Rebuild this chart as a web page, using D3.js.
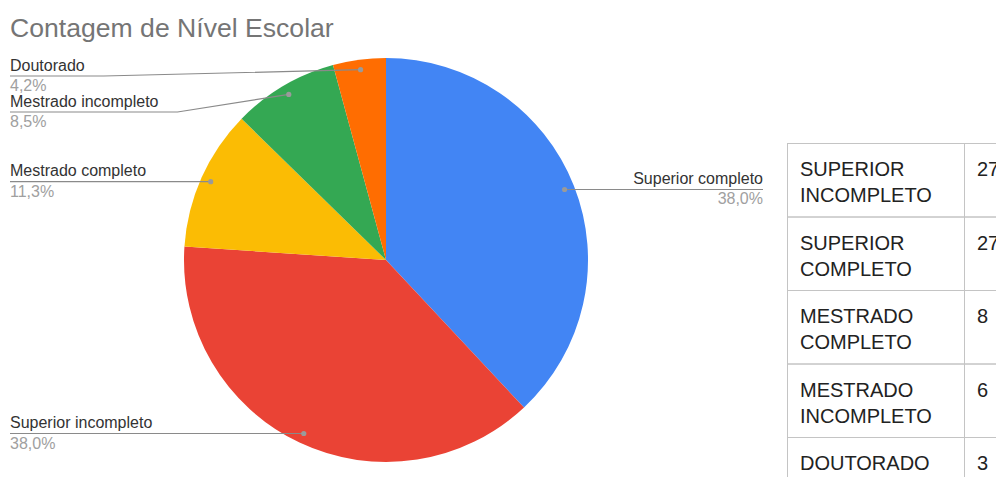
<!DOCTYPE html>
<html>
<head>
<meta charset="utf-8">
<script src="https://cdn.jsdelivr.net/npm/d3@7/dist/d3.min.js"></script>
<style>
  html, body { margin: 0; padding: 0; background: #fff; }
  svg { display: block; }
</style>
</head>
<body>
<svg id="chart" width="996" height="477"></svg>
<script>
// Pie categories and counts (clockwise from 12 o'clock)
const categories = ["Superior completo", "Superior incompleto", "Mestrado completo", "Mestrado incompleto", "Doutorado"];
const counts = [27, 27, 8, 6, 3];
const colors = ["#4285f4", "#ea4335", "#fbbc04", "#34a853", "#ff6d01"];

// Side table rows
const tableLabels = ["SUPERIOR INCOMPLETO", "SUPERIOR COMPLETO", "MESTRADO COMPLETO", "MESTRADO INCOMPLETO", "DOUTORADO"];
const tableCounts = [27, 27, 8, 6, 3];

const title = "Contagem de Nível Escolar";

const FONT = "'Liberation Sans', Arial, sans-serif";
const svg = d3.select("#chart");

// Title
svg.append("text")
  .attr("x", 10).attr("y", 37)
  .attr("font-family", FONT).attr("font-size", 26.6)
  .attr("fill", "#757575")
  .text(title);

// Pie
const cx = 386, cy = 260, R = 202;
const total = d3.sum(counts);
const data = categories.map((c, i) => ({ name: c, value: counts[i], color: colors[i] }));
const pie = d3.pie().sort(null).value(d => d.value);
const arcs = pie(data);
const arc = d3.arc().innerRadius(0).outerRadius(R);
const dotArc = d3.arc().innerRadius(192).outerRadius(192);

const g = svg.append("g").attr("transform", `translate(${cx},${cy})`);
g.selectAll("path.slice")
  .data(arcs)
  .join("path")
  .attr("class", "slice")
  .attr("d", arc)
  .attr("fill", d => d.data.color);

// Percentage format with comma decimal separator
const fmtPct = v => (v * 100).toFixed(1).replace(".", ",") + "%";

// Label layout: right side labels end at a fixed x, left side labels start at x=10
const labels = arcs.map(a => {
  const [dx, dy] = dotArc.centroid(a);
  return { a, dotX: cx + dx, dotY: cy + dy, right: dx > 0 };
});

// Stack left labels top-down, avoiding overlap
const LEFT_X = 10, RIGHT_X = 763, SPACING = 36, MIN_Y = 76;
const left = labels.filter(l => !l.right).sort((p, q) => p.dotY - q.dotY);
let prev = -Infinity;
left.forEach(l => {
  l.lineY = Math.max(l.dotY, prev + SPACING, MIN_Y);
  prev = l.lineY;
});
labels.filter(l => l.right).forEach(l => { l.lineY = l.dotY; });

const lg = svg.append("g");
labels.forEach(l => {
  const name = lg.append("text")
    .attr("font-family", FONT).attr("font-size", 16)
    .attr("fill", "#333")
    .attr("y", l.lineY - 5.5)
    .text(l.a.data.name);
  lg.append("text")
    .attr("font-family", FONT).attr("font-size", 16)
    .attr("fill", "#a0a0a0")
    .attr("y", l.lineY + 15)
    .attr("x", l.right ? RIGHT_X : LEFT_X)
    .attr("text-anchor", l.right ? "end" : "start")
    .text(fmtPct(l.a.data.value / total));
  let pts;
  if (l.right) {
    name.attr("x", RIGHT_X).attr("text-anchor", "end");
    pts = [[l.dotX, l.dotY], [RIGHT_X, l.lineY]];
  } else {
    name.attr("x", LEFT_X);
    const w = name.node().getComputedTextLength();
    const knee = Math.min(LEFT_X + w + 19, l.dotX);
    pts = [[LEFT_X, l.lineY], [knee, l.lineY], [l.dotX, l.dotY]];
  }
  lg.append("path")
    .attr("d", d3.line()(pts))
    .attr("fill", "none")
    .attr("stroke", "#8a8a8a")
    .attr("stroke-width", 1.2);
  lg.append("circle")
    .attr("cx", l.dotX).attr("cy", l.dotY).attr("r", 2.6)
    .attr("fill", "#9a9a9a");
});

// Side table (its right part runs past the page edge)
const tX = 787, tY = 143, col1W = 177, col2W = 60, rowH = 73.5;
const tg = svg.append("g");
const rowScale = d3.scaleBand().domain(d3.range(tableLabels.length))
  .range([tY, tY + rowH * tableLabels.length]).padding(0);

tableLabels.forEach((lab, i) => {
  const y0 = rowScale(i);
  tg.append("rect")
    .attr("x", tX + 0.5).attr("y", y0 + 0.5)
    .attr("width", col1W).attr("height", rowH)
    .attr("fill", "none").attr("stroke", "#c4c4c4");
  tg.append("rect")
    .attr("x", tX + col1W + 0.5).attr("y", y0 + 0.5)
    .attr("width", col2W).attr("height", rowH)
    .attr("fill", "none").attr("stroke", "#c4c4c4");
  const t = tg.append("text")
    .attr("font-family", FONT).attr("font-size", 20)
    .attr("fill", "#222")
    .attr("x", tX + 13).attr("y", y0 + 33);
  lab.split(" ").forEach((word, k) => {
    t.append("tspan").attr("x", tX + 13).attr("dy", k === 0 ? 0 : 26).text(word);
  });
  tg.append("text")
    .attr("font-family", FONT).attr("font-size", 20)
    .attr("fill", "#222")
    .attr("x", tX + col1W + 13).attr("y", y0 + 33)
    .text(tableCounts[i]);
});
</script>
</body>
</html>
